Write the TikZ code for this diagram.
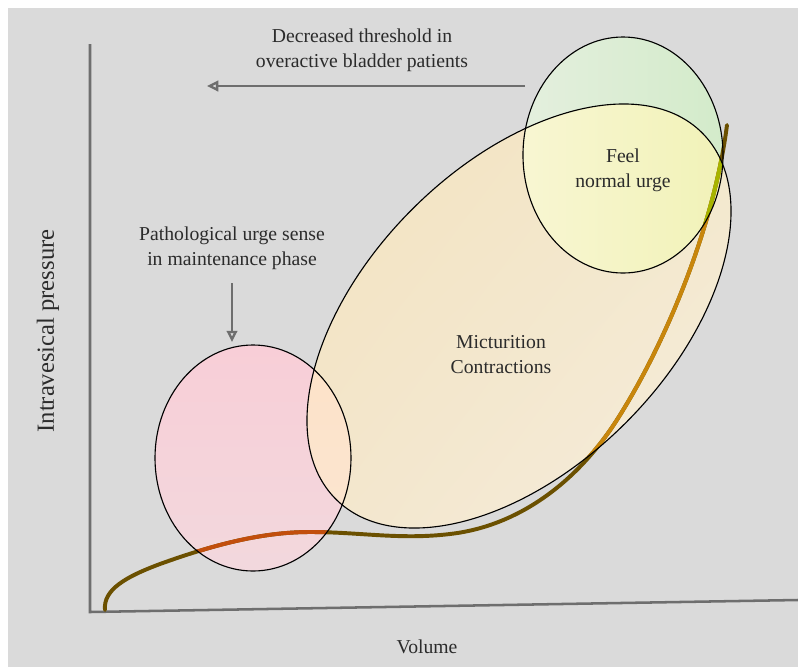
\documentclass[tikz,border=0pt]{standalone}
\usepackage{fontspec}
\setmainfont{Liberation Serif}
\usetikzlibrary{arrows.meta, positioning, shadings}

\definecolor{bggray}{HTML}{DADADA}
\definecolor{axisgray}{HTML}{6E6E6E}
\definecolor{txtgray}{HTML}{2B2B2B}
\definecolor{curvebrown}{HTML}{6B5000}
\definecolor{curvered}{HTML}{C24E0C}
\definecolor{curvegold}{HTML}{C8860C}
\definecolor{curvelime}{HTML}{A6B400}
\definecolor{mictA}{HTML}{F2E1BC}
\definecolor{mictB}{HTML}{F3E8CA}
\definecolor{mictC}{HTML}{F3E6CC}
\definecolor{mictD}{HTML}{F5EEE1}
\definecolor{pinkA}{HTML}{F8CED7}
\definecolor{pinkB}{HTML}{F2D8DD}
\definecolor{peachA}{HTML}{FDE2C8}
\definecolor{peachB}{HTML}{FBE6D2}
\definecolor{greenA}{HTML}{E4EFDE}
\definecolor{greenB}{HTML}{D3EBCA}
\definecolor{lemonA}{HTML}{F8F6D2}
\definecolor{lemonB}{HTML}{F1F2B8}

\begin{document}
\begin{tikzpicture}[
    x=0.025cm, y=-0.025cm,
    lbl/.style={font=\fontsize{14}{17.8}\selectfont, text=txtgray,
                align=center},
    axis/.style={draw=axisgray, line width=1.8pt},
    pointer/.style={draw=axisgray, line width=1.7pt,
                    -{Triangle[open, length=8pt, width=7.5pt]}},
    rim/.style={draw=black, line width=0.8pt},
    curve/.style={line width=2.8pt, line cap=round}
  ]
  \useasboundingbox (0,0) rectangle (798,667);
  \fill[white] (0,0) rectangle (798,667);
  \fill[bggray] (8,8) rectangle (798,667);

  % Axes
  \coordinate (ytop) at (90,44);
  \coordinate (origin) at (90,612);
  \coordinate (xend) at (798,600);
  \draw[axis] (ytop) -- (origin) -- (xend);

  % Micturition ellipse (tilted)
  \begin{scope}
    \clip[rotate around={45:(519,316)}] (519,316) ellipse [x radius=259, y radius=151];
    \shade[upper left=mictA, upper right=mictB, lower left=mictC, lower right=mictD]
      (250,50) rectangle (790,580);
  \end{scope}

  % Pathological urge ellipse
  \shade[top color=pinkA, bottom color=pinkB]
    (253,458) ellipse [x radius=98, y radius=113];
  \begin{scope}
    \clip[rotate around={45:(519,316)}] (519,316) ellipse [x radius=259, y radius=151];
    \shade[top color=peachA, bottom color=peachB]
      (253,458) ellipse [x radius=98, y radius=113];
  \end{scope}

  % Normal urge ellipse
  \shade[left color=greenA, right color=greenB]
    (623,155) ellipse [x radius=100, y radius=118];
  \begin{scope}
    \clip[rotate around={45:(519,316)}] (519,316) ellipse [x radius=259, y radius=151];
    \shade[left color=lemonA, right color=lemonB]
      (623,155) ellipse [x radius=100, y radius=118];
  \end{scope}

  % Pressure curve
  \def\pcurve{(105,610) .. controls (103,590) and (125,577) .. (160,564)
    .. controls (210,546) and (260,532) .. (310,532)
    .. controls (360,532) and (400,540) .. (450,534)
    .. controls (520,526) and (580,480) .. (620,415)
    .. controls (670,335) and (715,220) .. (727,125)}
  \draw[curve, curvebrown] \pcurve;
  \begin{scope}
    \clip (253,458) ellipse [x radius=98, y radius=113];
    \draw[curve, curvered] \pcurve;
  \end{scope}
  \begin{scope}
    \clip[rotate around={45:(519,316)}] (519,316) ellipse [x radius=259, y radius=151];
    \draw[curve, curvegold] \pcurve;
    \clip (623,155) ellipse [x radius=100, y radius=118];
    \draw[curve, curvelime] \pcurve;
  \end{scope}

  % Outlines
  \draw[rim, rotate around={45:(519,316)}] (519,316) ellipse [x radius=259, y radius=151];
  \draw[rim] (253,458) ellipse [x radius=98, y radius=113];
  \draw[rim] (623,155) ellipse [x radius=100, y radius=118];

  % Labels
  \node[lbl] (feel) at (623,170) {Feel\\normal urge};
  \node[lbl] (mict) at (501,355) {Micturition\\Contractions};
  \node[lbl] (thresh) at (362,50) {Decreased threshold in\\overactive bladder patients};
  \node[lbl] (patho) at (232,248) {Pathological urge sense\\in maintenance phase};
  \node[lbl] (volume) at (427,647) {Volume};
  \node[lbl, font=\fontsize{17.5}{21}\selectfont, rotate=90] (pressure) at (48,331)
    {Intravesical pressure};

  % Arrows
  \coordinate (threshtail) at (525,86);
  \coordinate (threshhead) at (207,86);
  \draw[pointer] (threshtail) -- (threshhead);
  \coordinate (urgetail) at (232,283);
  \coordinate (urgehead) at (232,342);
  \draw[pointer] (urgetail) -- (urgehead);
\end{tikzpicture}
\end{document}
